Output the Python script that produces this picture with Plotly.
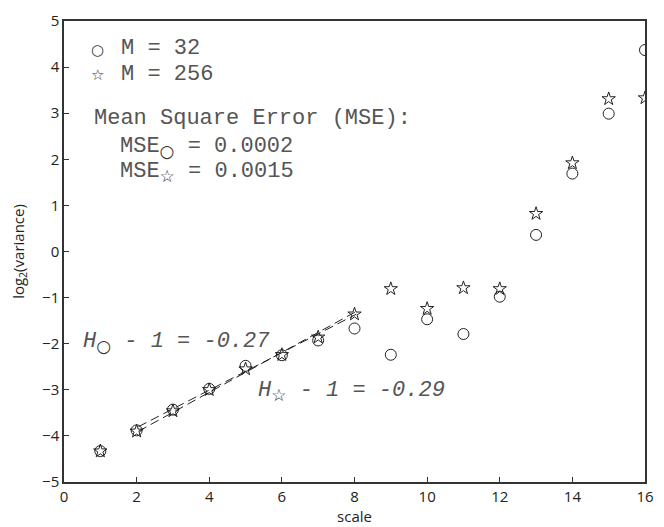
import plotly.graph_objects as go

# wavelet scales and log2 variance estimates for two record lengths
scale = [1, 2, 3, 4, 5, 6, 7, 8, 9, 10, 11, 12, 13, 14, 15, 16]
logvar_m32 = [-4.33, -3.88, -3.43, -2.98, -2.48, -2.25, -1.93, -1.67, -2.24,
              -1.47, -1.79, -0.98, 0.36, 1.69, 2.99, 4.37]
logvar_m256 = [-4.33, -3.90, -3.46, -3.00, -2.55, -2.24, -1.86, -1.36, -0.81,
               -1.24, -0.79, -0.81, 0.82, 1.92, 3.31, 3.33]

# fitted regression lines over the linear range
fit_x = [2.05, 8.05]
fit_m32 = [-3.80, -1.36]
fit_m256 = [-3.90, -1.30]

ink = "#555555"
mono = "Liberation Mono, Courier New, monospace"
sans = "Open Sans, Noto Sans, sans-serif"

fig = go.Figure()

for fy in (fit_m32, fit_m256):
    fig.add_trace(go.Scatter(
        x=fit_x, y=fy, mode="lines", showlegend=False,
        line=dict(color="#222222", width=1, dash="9px,5px"),
        hoverinfo="skip"))

fig.add_trace(go.Scatter(
    x=scale, y=logvar_m32, mode="markers", name="M = 32", showlegend=False,
    marker=dict(symbol="circle-open", size=11, color="#222222",
                line=dict(width=1, color="#222222"))))
fig.add_trace(go.Scatter(
    x=scale, y=logvar_m256, mode="markers", name="M = 256", showlegend=False,
    marker=dict(symbol="star-open", size=10, color="#222222",
                line=dict(width=1, color="#222222"))))

L, R, T, B = 64, 10, 15, 45
W, H = 664, 527
PW, PH = W - L - R, H - T - B


def px(x):
    return (x - L) / PW


def py(y):
    return 1 - (y - T) / PH


def note(text, x, y, size=22, anchor="left", italic=False, font=mono,
         color=ink):
    fig.add_annotation(
        text=f"<i>{text}</i>" if italic else text,
        xref="paper", yref="paper", x=px(x), y=py(y),
        xanchor=anchor, yanchor="middle", showarrow=False,
        font=dict(family=font, size=size, color=color))


def sym(ch):
    return ("<span style='font-family:DejaVu Sans;font-size:17px;"
            f"font-style:normal;color:#333333'>{ch}</span>")


# key
note("○", 98, 44, size=15, anchor="center", font="DejaVu Sans", color="#333")
note("M = 32", 120, 43)
note("☆", 98, 70, size=15, anchor="center", font="DejaVu Sans", color="#333")
note("M = 256", 120, 69)

note("Mean Square Error (MSE):", 92, 114)
note(f"MSE<sub>{sym('○')}</sub> = 0.0002", 119, 143)
note(f"MSE<sub>{sym('☆')}</sub> = 0.0015", 119, 168)

note(f"H<sub>{sym('○')}</sub> - 1 = -0.27", 81, 341, italic=True)
note(f"H<sub>{sym('☆')}</sub> - 1 = -0.29", 259, 390, italic=True)

axis_common = dict(
    showgrid=False, zeroline=False, showline=True, mirror=True,
    linecolor="#333333", linewidth=1.5, ticks="inside", ticklen=5,
    tickcolor="#333333", tickwidth=1,
    tickfont=dict(family=sans, size=15, color="#222222"))

fig.update_xaxes(range=[0, 16], tickvals=list(range(0, 17, 2)),
                 title=dict(text="scale", standoff=0,
                            font=dict(family=sans, size=15, color="#222222")),
                 **axis_common)
fig.update_yaxes(range=[-5, 5], tickvals=list(range(-5, 6)),
                 title=dict(text="log<sub>2</sub>(variance)", standoff=14,
                            font=dict(family=sans, size=15, color="#222222")),
                 **axis_common)

fig.update_layout(
    width=W, height=H,
    margin=dict(l=L, r=R, t=T, b=B),
    paper_bgcolor="white", plot_bgcolor="white",
    showlegend=False)

fig.write_html("out.html")
